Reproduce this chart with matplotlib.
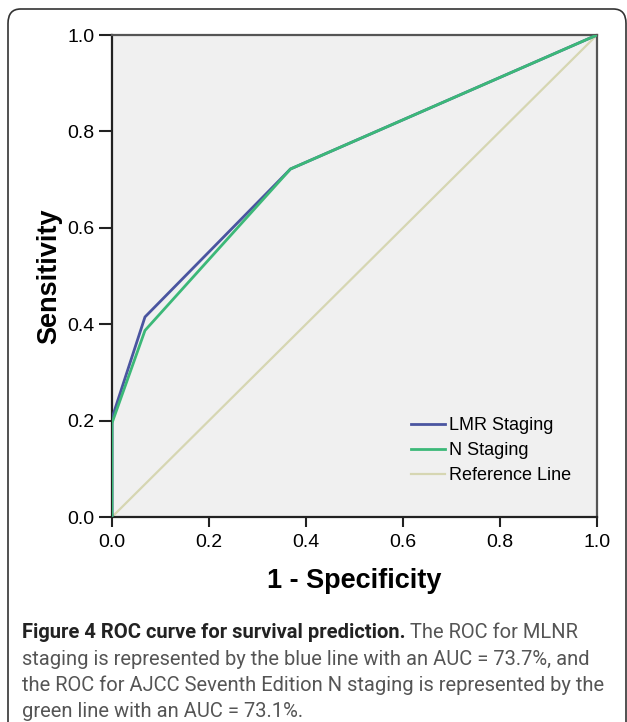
import matplotlib
matplotlib.use('Agg')
import matplotlib.pyplot as plt
from matplotlib.patches import FancyBboxPatch

# ROC points
lmr_fpr = [0.0, 0.0, 0.068, 0.368, 1.0]
lmr_tpr = [0.0, 0.205, 0.415, 0.722, 1.0]
n_fpr = [0.0, 0.0, 0.068, 0.368, 1.0]
n_tpr = [0.0, 0.195, 0.387, 0.722, 1.0]
ref_x = [0.0, 1.0]
ref_y = [0.0, 1.0]
ticks = [0.0, 0.2, 0.4, 0.6, 0.8, 1.0]

caption_bold = 'Figure 4 ROC curve for survival prediction.'
caption_first = ' The ROC for MLNR'
caption_lines = ['staging is represented by the blue line with an AUC = 73.7%, and',
                 'the ROC for AJCC Seventh Edition N staging is represented by the',
                 'green line with an AUC = 73.1%.']

W, H = 627, 722
fig = plt.figure(figsize=(W / 100, H / 100), dpi=100)
fig.patch.set_facecolor('white')

# rounded frame round the whole figure (right and bottom run off the edge)
frame = FancyBboxPatch((8 / W, -30 / H), 618 / W, (722 - 9 + 30) / H,
                       boxstyle='round,pad=0,rounding_size=0.02',
                       transform=fig.transFigure, fill=False,
                       edgecolor='#333333', linewidth=1.2)
fig.patches.append(frame)

# plot area
ax = fig.add_axes([112 / W, (H - 517) / H, 485 / W, 482 / H])
ax.set_facecolor('#f0f0f0')
ax.plot(ref_x, ref_y, color='#d6d6b2', linewidth=1.6, label='Reference Line', zorder=2)
ax.plot(lmr_fpr, lmr_tpr, color='#4a55a0', linewidth=2.0, label='LMR Staging', zorder=3)
ax.plot(n_fpr, n_tpr, color='#3cb878', linewidth=2.0, label='N Staging', zorder=4)

ax.set_xlim(0, 1)
ax.set_ylim(0, 1)
ax.set_xticks(ticks)
ax.set_yticks(ticks)
ax.set_xticklabels([f'{t:.1f}' for t in ticks], fontsize=14, family='Liberation Sans')
ax.set_yticklabels([f'{t:.1f}' for t in ticks], fontsize=14, family='Liberation Sans')
ax.tick_params(axis='y', direction='out', length=9.5, width=1.5, color='#222222', pad=3)
ax.tick_params(axis='x', direction='out', length=7.5, width=1.5, color='#222222', pad=5)

for s in ['left', 'bottom']:
    ax.spines[s].set_color('#222222')
    ax.spines[s].set_linewidth(1.6)
for s in ['top', 'right']:
    ax.spines[s].set_color('#555555')
    ax.spines[s].set_linewidth(1.6)

ax.set_xlabel('1 - Specificity', fontsize=19.5, fontweight='bold',
              family='Liberation Sans', labelpad=12)
ax.set_ylabel('Sensitivity', fontsize=19.5, fontweight='bold',
              family='Liberation Sans', labelpad=4)

handles, labels = ax.get_legend_handles_labels()
order = [1, 2, 0]
ax.legend([handles[i] for i in order], [labels[i] for i in order],
          loc='upper left', bbox_to_anchor=(0.616, 0.207), frameon=False,
          prop={'family': 'Liberation Sans', 'size': 13},
          handlelength=1.9, handletextpad=0.2, labelspacing=0.45,
          borderpad=0, borderaxespad=0)

# caption, sized so the long line fills the width as in the picture
fig.canvas.draw()
r = fig.canvas.get_renderer()
cap_font = 'Roboto'
probe = fig.text(0, 0, caption_lines[0], fontsize=13, family=cap_font)
wpx = probe.get_window_extent(renderer=r).width
probe.remove()
fs = 13 * 570 / wpx

cx = 22 / W
y0 = 633
bold = fig.text(cx, 1 - y0 / H, caption_bold, fontsize=fs, fontweight='bold',
                family=cap_font, color='#222222', va='center')
bb = bold.get_window_extent(renderer=r)
fig.text(bb.x1 / W, 1 - y0 / H, caption_first, fontsize=fs,
         family=cap_font, color='#555555', va='center')
for i, t in enumerate(caption_lines):
    fig.text(cx, 1 - (y0 + 26.3 * (i + 1)) / H, t, fontsize=fs, family=cap_font,
             color='#555555', va='center')

fig.savefig('out.png', dpi=100)
